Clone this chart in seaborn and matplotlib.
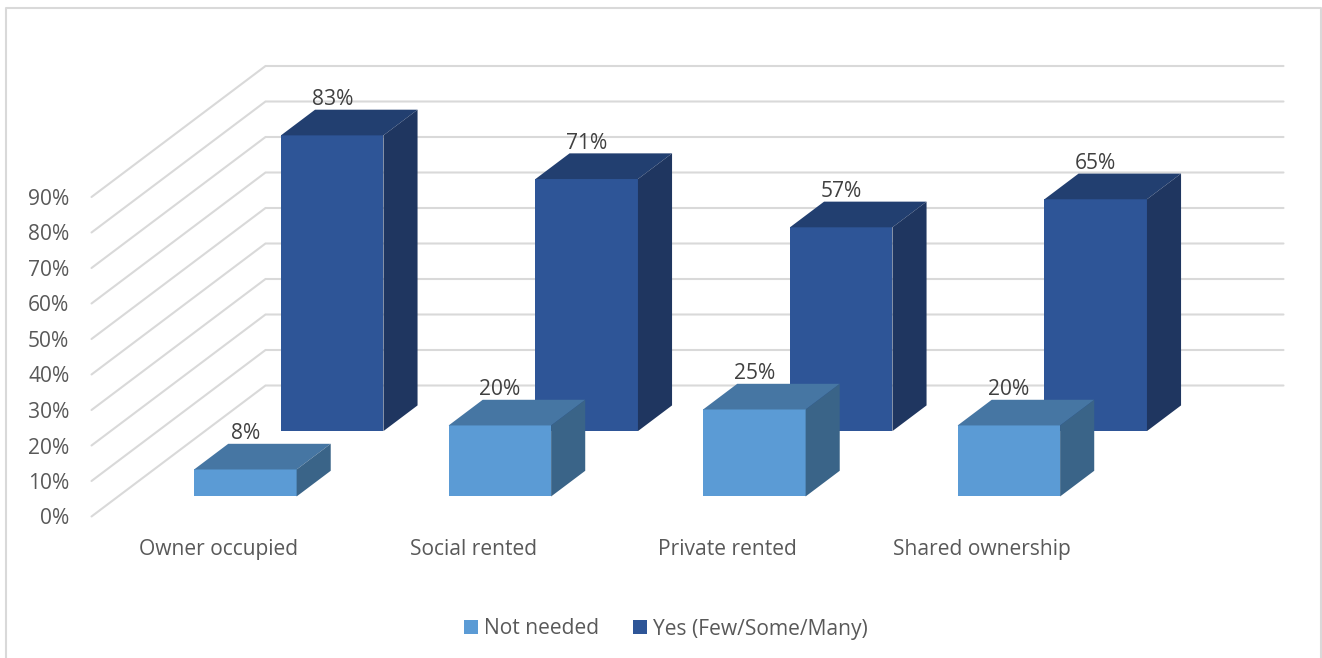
import matplotlib
matplotlib.use("Agg")
import matplotlib.pyplot as plt
import seaborn as sns
from matplotlib.lines import Line2D
from matplotlib.patches import Polygon, Patch
from matplotlib.transforms import Affine2D

categories = ["Owner occupied", "Social rented", "Private rented", "Shared ownership"]
not_needed = [7.6, 20.0, 24.5, 20.0]
yes_some = [83.3, 71.0, 57.4, 65.3]
not_needed_labels = ["8%", "20%", "25%", "20%"]
yes_some_labels = ["83%", "71%", "57%", "65%"]
y_ticks = [0, 10, 20, 30, 40, 50, 60, 70, 80, 90]
series_names = ["Not needed", "Yes (Few/Some/Many)"]

W, H = 1322, 658
PX_X = 254.5   # pixels per category
PX_Y = 3.55    # pixels per percent
SX, SY = 174 / PX_X, 131 / PX_Y  # full floor depth in data units
BAR_W = 102.5 / PX_X
BAR_D = 0.196

sns.set_theme(style="white")
plt.rcParams["font.family"] = ["Open Sans", "DejaVu Sans"]
TICK = "#595959"
GRID = "#d9d9d9"
FS = 15.1

fig = plt.figure(figsize=(W / 100, H / 100), dpi=100)
left, right, top, bottom = 91.5, 1284.5, 64, 516.5
ax = fig.add_axes([left / W, 1 - bottom / H, (right - left) / W, (bottom - top) / H])


def draw_series(values, labels, depth, front, top_c, side_c, z):
    n0 = len(ax.patches)
    sns.barplot(x=categories, y=values, color=front, saturation=1, width=BAR_W,
                ax=ax, zorder=z)
    off = Affine2D().translate(depth * SX, depth * SY) + ax.transData
    for p in ax.patches[n0:]:
        p.set_transform(off)
        p.set_clip_on(False)
        p.set_linewidth(0)
    for i, v in enumerate(values):
        x0, x1 = i - BAR_W / 2, i + BAR_W / 2
        dx, dy = BAR_D * SX, BAR_D * SY
        ax.add_patch(Polygon([(x0, v), (x1, v), (x1 + dx, v + dy), (x0 + dx, v + dy)],
                             closed=True, fc=top_c, ec="none", transform=off,
                             clip_on=False, zorder=z))
        ax.add_patch(Polygon([(x1, 0), (x1 + dx, dy), (x1 + dx, v + dy), (x1, v)],
                             closed=True, fc=side_c, ec="none", transform=off,
                             clip_on=False, zorder=z))
        ax.annotate(labels[i], xy=(i, v), xycoords=off, xytext=(0, 36 * 0.72),
                    textcoords="offset points", ha="center", va="center",
                    fontsize=FS, color="#404040", zorder=8, annotation_clip=False)


draw_series(yes_some, yes_some_labels, 0.652, "#2e5597", "#223f70", "#1f3660", 3)
draw_series(not_needed, not_needed_labels, 0.153, "#5b9bd5", "#4676a3", "#3a6488", 4)

# side wall and back wall gridlines
for v in y_ticks:
    ax.plot([-0.5, -0.5 + SX, 3.5 + SX], [v, v + SY, v + SY], color=GRID, lw=1.5,
            clip_on=False, zorder=0.5, solid_joinstyle="miter")

ax.set_xlim(-0.5, -0.5 + (right - left) / PX_X)
ax.set_ylim(0, (bottom - top) / PX_Y)
ax.set_xticks(range(len(categories)))
ax.set_xticklabels(categories)
ax.set_yticks(y_ticks)
ax.set_yticklabels([f"{v}%" for v in y_ticks])
ax.tick_params(axis="x", length=0, pad=16, labelsize=FS, labelcolor=TICK)
ax.tick_params(axis="y", length=0, pad=16, labelsize=FS, labelcolor=TICK)
ax.set_xlabel("")
ax.set_ylabel("")
for s in ax.spines.values():
    s.set_visible(False)
ax.patch.set_alpha(0)

handles = [Patch(fc="#5b9bd5", ec="none"), Patch(fc="#2e5597", ec="none")]
fig.legend(handles, series_names, loc="center", bbox_to_anchor=(666 / W, 1 - 629 / H), ncol=2,
           frameon=False, fontsize=FS, labelcolor=TICK, handlelength=0.67, handleheight=0.67,
           handletextpad=0.3, columnspacing=1.6)

# chart frame
fx = [6 / W, 6 / W, 1321 / W, 1321 / W]
fy = [0, 1 - 8 / H, 1 - 8 / H, 0]
fig.add_artist(Line2D(fx, fy, color="#d9d9d9", lw=1.5, transform=fig.transFigure))

fig.savefig("out.png", dpi=100)
